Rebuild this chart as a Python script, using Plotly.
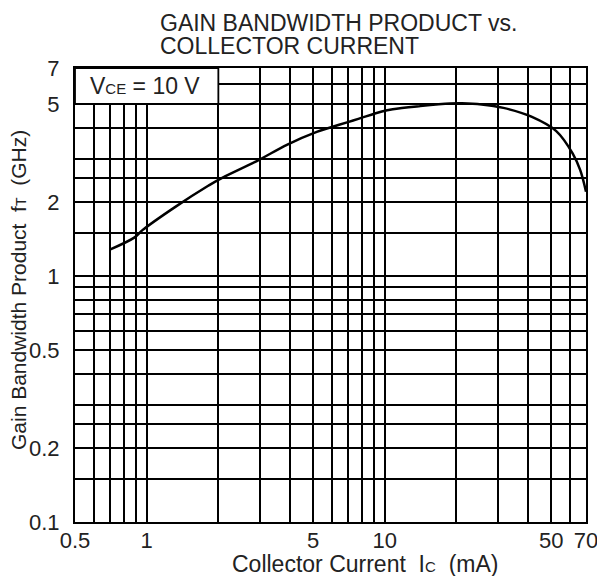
import math
import plotly.graph_objects as go

# Curve data (Ic in mA, fT in GHz)
ic_ma = [0.70, 0.89, 0.96, 1.31, 1.82, 2.02, 2.9, 3.9, 5.18, 5.86, 7.0, 7.8, 9.72, 10.8,
         14.1, 18.8, 21.1, 25.5, 31.5, 41.5, 52.5, 61.5, 66.2, 70.0]
ft_ghz = [1.28, 1.435, 1.535, 1.90, 2.33, 2.47, 2.93, 3.42, 3.85, 4.0, 4.22, 4.36, 4.66, 4.76,
          4.9, 5.02, 5.03, 4.98, 4.82, 4.43, 3.88, 3.15, 2.69, 2.20]

# Grid lines and labels
x_grid = [0.5, 0.6, 0.7, 0.8, 0.9, 1, 2, 3, 4, 5, 6, 7, 8, 9, 10, 20, 30, 40, 50, 60, 70]
x_labels = {0.5: "0.5", 1: "1", 5: "5", 10: "10", 50: "50", 70: "70"}
y_grid = [0.1, 0.15, 0.2, 0.25, 0.3, 0.4, 0.5, 0.6, 0.7, 0.8, 0.9, 1, 1.5, 2, 2.5, 3, 4, 5, 6, 7]
y_labels = {0.1: "0.1", 0.2: "0.2", 0.5: "0.5", 1: "1", 2: "2", 5: "5", 7: "7"}

x_range = [0.5, 70]
y_range = [0.1, 7]
box_x = [0.5, 2]
box_y = [5, 7]

FONT = "Liberation Sans, Arial, sans-serif"
TXT = "#222"
EPS = 1e-5

fig = go.Figure()
fig.add_trace(go.Scatter(x=ic_ma, y=ft_ghz, mode="lines",
                         line=dict(color="black", width=2.5, shape="spline", smoothing=1.0),
                         hoverinfo="skip", showlegend=False))

fig.update_xaxes(type="log", range=[math.log10(x_range[0]) - EPS, math.log10(x_range[1]) + EPS],
                 tickvals=x_grid, ticktext=[x_labels.get(v, "") for v in x_grid],
                 showgrid=True, gridcolor="black", gridwidth=1.6,
                 showline=True, linecolor="black", linewidth=2, mirror=True,
                 ticks="", tickfont=dict(size=22, color=TXT), ticklabelstandoff=-2,
                 ticklabeloverflow="allow",
                 zeroline=False, automargin=False)
fig.update_yaxes(type="log", range=[math.log10(y_range[0]) - EPS, math.log10(y_range[1]) + EPS],
                 tickvals=y_grid, ticktext=[y_labels.get(v, "") for v in y_grid],
                 showgrid=True, gridcolor="black", gridwidth=1.6,
                 showline=True, linecolor="black", linewidth=2, mirror=True,
                 ticks="", tickfont=dict(size=22, color=TXT), ticklabelstandoff=9,
                 ticklabeloverflow="allow",
                 zeroline=False, automargin=False)

fig.add_shape(type="rect", xref="x", yref="y", x0=box_x[0], x1=box_x[1], y0=box_y[0], y1=box_y[1],
              fillcolor="white", line=dict(color="black", width=1.8), layer="above")
fig.add_annotation(xref="x", yref="y", x=math.log10(0.565), y=math.log10(5.9), xanchor="left", yanchor="middle",
                   text="V<span style='font-size:15px'>CE</span> = 10 V", showarrow=False,
                   font=dict(size=23, color=TXT, family=FONT))

fig.add_annotation(xref="paper", yref="paper", x=0.5675, y=-0.093, xanchor="center", yanchor="middle",
                   text="Collector Current  I<span style='font-size:15px'>C</span>  (mA)", showarrow=False,
                   font=dict(size=23, color=TXT, family=FONT))
fig.add_annotation(xref="paper", yref="paper", x=-0.1115, y=0.511, xanchor="center", yanchor="middle",
                   textangle=-90, text="Gain Bandwidth Product  f<span style='font-size:14px'>T</span>  (GHz)",
                   showarrow=False, font=dict(size=21, color=TXT, family=FONT))
fig.add_annotation(xref="paper", yref="paper", x=0.1624, y=1.0994, xanchor="left", yanchor="middle",
                   text="GAIN BANDWIDTH PRODUCT vs.", showarrow=False,
                   font=dict(size=23, color=TXT, family=FONT))
fig.add_annotation(xref="paper", yref="paper", x=0.1624, y=1.0477, xanchor="left", yanchor="middle",
                   text="COLLECTOR CURRENT", showarrow=False,
                   font=dict(size=23, color=TXT, family=FONT))

fig.update_layout(
    width=597, height=576,
    margin=dict(l=75, r=11, t=68, b=54),
    paper_bgcolor="white", plot_bgcolor="white",
    font=dict(family=FONT, color=TXT),
)

fig.write_html("out.html", config={"displayModeBar": False},
               post_script="document.body.style.margin='0';")
